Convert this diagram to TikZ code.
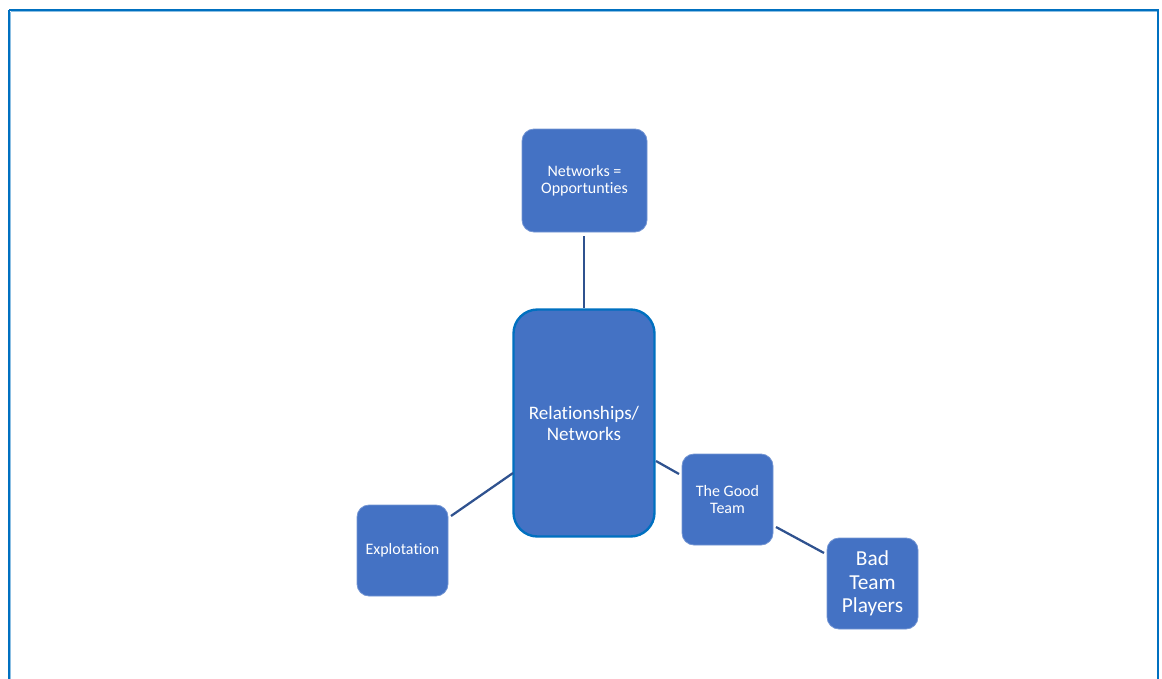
\documentclass[tikz,border=0pt]{standalone}
\usepackage{fontspec}
\setmainfont[Ligatures=NoCommon]{Carlito}
\definecolor{boxfill}{HTML}{4472C4}
\definecolor{frameblue}{HTML}{0070C0}
\definecolor{linkblue}{HTML}{2F528F}
\begin{document}
\begin{tikzpicture}[x=0.75pt,y=-0.75pt,
  smallbox/.style={draw=boxfill!75!white, line width=0.6pt, fill=boxfill, rounded corners=9pt,
    text=white, align=center, inner sep=0pt, font=\fontsize{12}{12.75}\selectfont},
  bigbox/.style={draw=frameblue, line width=1.8pt, fill=boxfill, rounded corners=18pt,
    text=white, align=center, inner sep=0pt, font=\fontsize{14.3}{15.75}\selectfont},
  link/.style={draw=linkblue, line width=1.7pt}]
\useasboundingbox (0,0) rectangle (1162,678);
\begin{scope}
\clip (0,0) rectangle (1162,678);
\draw[frameblue, line width=1.5pt] (9,10) -- (1158,10) -- (1158,700);
\draw[frameblue, line width=1.5pt] (9,10) -- (9,700);
\draw[frameblue!45!white, line width=0.6pt] (10.5,11.5) -- (1156.5,11.5);
\draw[frameblue!45!white, line width=0.6pt] (10.5,11.5) -- (10.5,700);
\end{scope}
\node[smallbox, minimum width=125*0.75pt, minimum height=103*0.75pt] (opp) at (584.5,180.5) {Networks =\\Opportunties};
\node[bigbox, minimum width=141*0.75pt, minimum height=227*0.75pt] (rel) at (584,423) {Relationships/\\Networks};
\node[smallbox, minimum width=91*0.75pt, minimum height=91*0.75pt] (good) at (727.5,499.5) {The Good\\Team};
\node[smallbox, minimum width=91*0.75pt, minimum height=91*0.75pt] (expl) at (402.5,550.5) {Explotation};
\node[smallbox, minimum width=91*0.75pt, minimum height=91*0.75pt, font=\fontsize{16}{17.6}\selectfont] (bad) at (872.5,583.5) {Bad\\Team\\Players};
\coordinate (a1) at (584,236);
\coordinate (a2) at (584,308);
\draw[link] (a1) -- (a2);
\coordinate (b1) at (451,516);
\coordinate (b2) at (513,473);
\draw[link] (b1) -- (b2);
\coordinate (c1) at (656,461);
\coordinate (c2) at (679,474);
\draw[link] (c1) -- (c2);
\coordinate (d1) at (776,527);
\coordinate (d2) at (824,553);
\draw[link] (d1) -- (d2);
\end{tikzpicture}
\end{document}
